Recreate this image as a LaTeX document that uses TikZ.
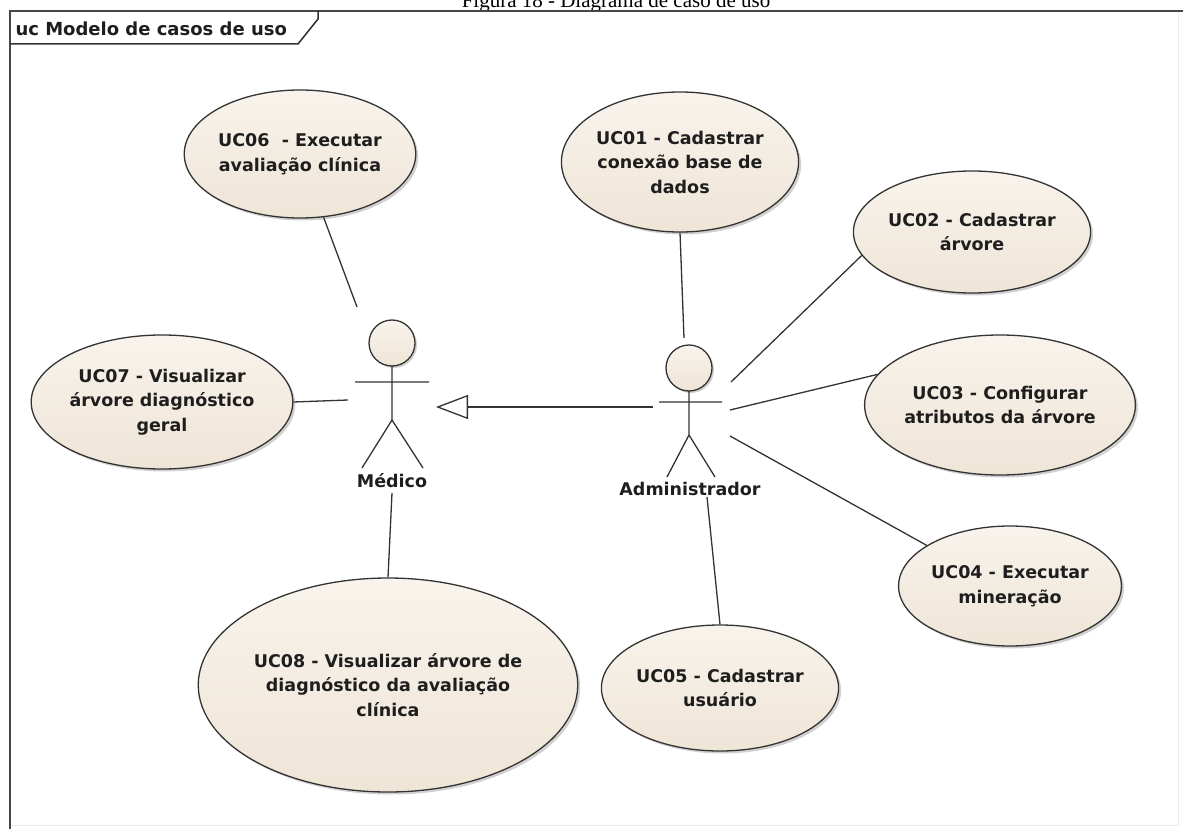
\documentclass[tikz,border=0pt]{standalone}
\usepackage{fontspec}
\setmainfont{Liberation Serif}
\newfontfamily\umlfont{DejaVu Sans}
\usetikzlibrary{shapes.geometric,arrows.meta,shadows}
\definecolor{ucfill}{HTML}{EFE5D7}
\definecolor{ucfilltop}{HTML}{F8F3EC}
\definecolor{ucline}{HTML}{333333}
\definecolor{ink}{HTML}{1E1E1E}
\begin{document}
\begin{tikzpicture}[x=1pt,y=-1pt,
  umltext/.style={font=\umlfont\bfseries\fontsize{17.5}{24.5}\selectfont, text=ink},
  usecase/.style={ellipse, draw=ucline, line width=1.3pt, top color=ucfilltop,
    bottom color=ucfill, inner sep=0pt, align=center, umltext,
    drop shadow={shadow xshift=2.5pt, shadow yshift=-2.5pt, opacity=.18, fill=black}},
  assoc/.style={draw=ucline, line width=1.3pt},
  stick/.style={draw=ucline, line width=1.3pt},
  head/.style={circle, draw=ucline, line width=1.3pt, top color=ucfilltop,
    bottom color=ucfill, inner sep=0pt, minimum size=46pt,
    drop shadow={shadow xshift=2pt, shadow yshift=-2pt, opacity=.18, fill=black}},
  generalize/.style={draw=ucline, line width=1.3pt,
    -{Triangle[open, length=32pt, width=24pt, fill=white]}}]
\useasboundingbox (0,0) rectangle (1183,829);

% figure caption, cut by the top edge
\begin{scope}
  \clip (0,0) rectangle (1183,10);
  \node[font=\fontsize{21}{23}\selectfont, anchor=base] (caption) at (616,7.5)
    {Figura 18 - Diagrama de caso de uso};
\end{scope}

% diagram frame and name tab
\draw[draw=gray!15, line width=1pt] (10,825) -- (1178,825) -- (1178,11);
\draw[draw=ucline!90, line width=2.2pt] (10,829) -- (10,11) -- (1183,11);
\node[umltext, font=\umlfont\bfseries\fontsize{18}{20}\selectfont, anchor=west]
  (title) at (12,29) {uc Modelo de casos de uso};
\draw[draw=ucline, line width=1.5pt] (10,44) -- (298,44) -- (318,19) -- (318,11);

% use cases
\node[usecase, minimum width=214pt, minimum height=128pt] (uc06) at (300,154)
  {UC06\ \ - Executar\\avaliação clínica};
\node[usecase, minimum width=216pt, minimum height=140pt] (uc01) at (680,162)
  {UC01 - Cadastrar\\conexão base de\\dados};
\node[usecase, minimum width=192pt, minimum height=122pt] (uc02) at (972,232)
  {UC02 - Cadastrar\\árvore};
\node[usecase, minimum width=216pt, minimum height=140pt] (uc03) at (1000,405)
  {UC03 - Configurar\\atributos da árvore};
\node[usecase, minimum width=192pt, minimum height=120pt] (uc04) at (1010,586)
  {UC04 - Executar\\mineração};
\node[usecase, minimum width=196pt, minimum height=126pt] (uc05) at (720,688)
  {UC05 - Cadastrar\\usuário};
\node[usecase, minimum width=216pt, minimum height=134pt] (uc07) at (162,402)
  {UC07 - Visualizar\\árvore diagnóstico\\geral};
\node[usecase, minimum width=312pt, minimum height=214pt] (uc08) at (388,685)
  {UC08 - Visualizar árvore de\\diagnóstico da avaliação\\clínica};

% actor: Médico
\draw[stick] (392,366) -- (392,420) (355,382) -- (429,382)
  (362,468) -- (392,420) -- (423,468);
\node[head] (medhead) at (392,343) {};
\node[umltext] (medico) at (392,481) {Médico};
\coordinate (medNW) at (357,307);
\coordinate (medW) at (348,400);
\coordinate (medE) at (436,407);
\coordinate (medS) at (392,493);

% actor: Administrador
\draw[stick] (689,391) -- (689,435) (659,402) -- (722,402)
  (667,477) -- (689,435) -- (715,477);
\node[head] (admhead) at (689,368) {};
\node[umltext] (admin) at (690,489) {Administrador};
\coordinate (admN) at (684,338);
\coordinate (admNE) at (731,382);
\coordinate (admE) at (730,410);
\coordinate (admSE) at (730,436);
\coordinate (admS) at (707,497);
\coordinate (admW) at (653,407);

% associations
\draw[assoc] (medNW) -- (uc06);
\draw[assoc] (medW) -- (uc07.east);
\draw[assoc] (medS) -- (uc08.north);
\draw[assoc] (admN) -- (uc01.south);
\draw[assoc] (admNE) -- (uc02.192);
\draw[assoc] (admE) -- (uc03.166);
\draw[assoc] (admSE) -- (uc04.154);
\draw[assoc] (admS) -- (uc05.north);

% generalization Administrador -> Médico
\draw[generalize] (admW) -- (medE);
\end{tikzpicture}
\end{document}
